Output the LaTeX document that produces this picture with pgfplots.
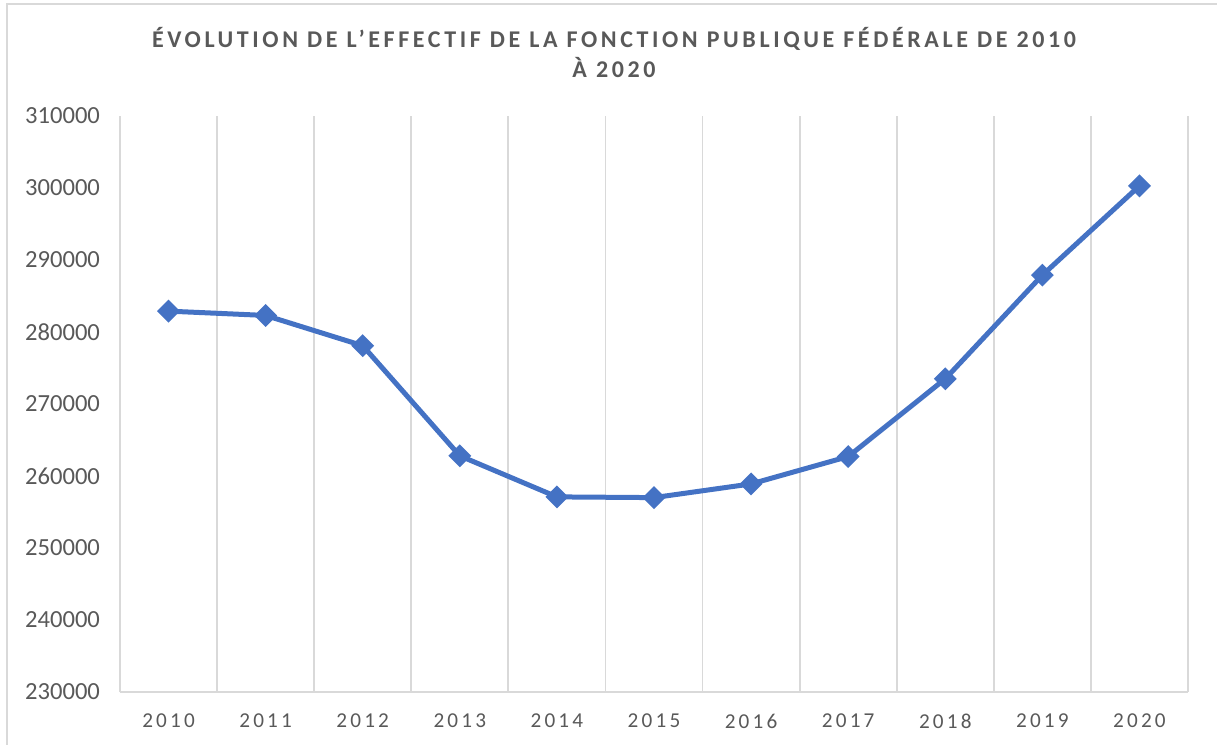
\documentclass[border=0pt]{standalone}
\usepackage{pgfplots}
\pgfplotsset{compat=1.18}
\usepackage{fontspec}
\setmainfont{Carlito}
\newfontfamily\spaced[LetterSpace=15]{Carlito}
\newfontfamily\titlefont[LetterSpace=15]{Carlito}
\definecolor{txt}{HTML}{595959}
\definecolor{grd}{HTML}{D9D9D9}
\definecolor{ser}{HTML}{4472C4}
\begin{document}
\begin{tikzpicture}[x=1pt,y=1pt]
\useasboundingbox (-60,-26.5) rectangle (548.5,346);
\draw[grd,line width=0.8pt] (-56.5,-26.5) -- (-56.5,344) -- (548.5,344);
\begin{axis}[
  at={(0,0)}, anchor=south west,
  scale only axis, width=534pt, height=288pt,
  xmin=-0.5, xmax=10.5, ymin=230000, ymax=310000,
  xtick={0,...,10},
  xticklabels={2010,2011,2012,2013,2014,2015,2016,2017,2018,2019,2020},
  minor xtick={-0.5,0.5,...,10.5},
  xminorgrids, minor grid style={grd, line width=0.9pt},
  ytick={230000,240000,...,310000},
  scaled y ticks=false,
  yticklabel style={/pgf/number format/fixed,/pgf/number format/1000 sep={}, font=\fontsize{12.3}{14}\selectfont, text=txt, xshift=-6.5pt},
  /pgf/number format/assume math mode=true,
  xticklabel style={font=\spaced\fontsize{10.6}{12}\selectfont, text=txt, yshift=-7.5pt},
  major tick length=0pt, minor tick length=0pt,
  axis x line*=bottom, axis y line*=left,
  x axis line style={grd, line width=0.9pt, -},
  y axis line style={draw=none, -},
  clip=false,
]
\addplot[ser, line width=2.5pt, mark=square*, mark size=2.8pt, mark options={rotate=45, solid, fill=ser}]
coordinates {
(0,282900) (1,282300) (2,278100) (3,262800) (4,257100) (5,257000)
(6,258900) (7,262700) (8,273500) (9,287900) (10,300300)
};
\end{axis}
\node[text=txt, font=\titlefont\bfseries\fontsize{12}{14}\selectfont, align=center] at (247,319.5)
  {ÉVOLUTION DE L’EFFECTIF DE LA FONCTION PUBLIQUE FÉDÉRALE DE 2010\\[1pt] À 2020};
\end{tikzpicture}
\end{document}
